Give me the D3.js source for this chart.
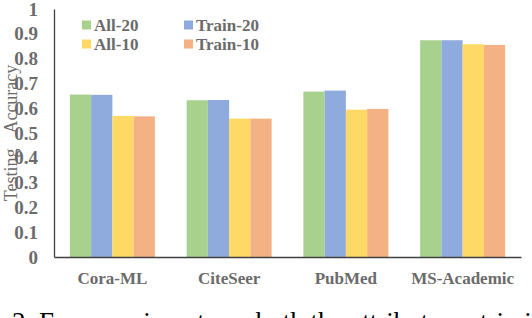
<!DOCTYPE html>
<html>
<head>
<meta charset="utf-8">
<script src="https://cdn.jsdelivr.net/npm/d3@7/dist/d3.min.js"></script>
<style>
  body { margin: 0; background: #fff; }
  svg { display: block; }
  text { font-family: "Liberation Serif", "Times New Roman", serif; }
</style>
</head>
<body>
<div id="chart"></div>
<script>
var datasets = ['Cora-ML', 'CiteSeer', 'PubMed', 'MS-Academic'];
var seriesNames = ['All-20', 'Train-20', 'All-10', 'Train-10'];
var all20 = [0.655, 0.632, 0.667, 0.874];
var train20 = [0.654, 0.633, 0.671, 0.874];
var all10 = [0.569, 0.558, 0.594, 0.858];
var train10 = [0.567, 0.558, 0.597, 0.855];
var yTicks = [0, 0.1, 0.2, 0.3, 0.4, 0.5, 0.6, 0.7, 0.8, 0.9, 1];
var colors = ['#a9d18e', '#8faadc', '#ffd966', '#f4b183'];

var series = [all20, train20, all10, train10];
var W = 532, H = 318;
var textColor = '#6b6b6b';

var svg = d3.select('#chart').append('svg')
	.attr('width', W).attr('height', H);

var x0 = d3.scaleBand().domain(datasets).range([54, 521])
	.paddingInner(0.272).paddingOuter(0.136);
var x1 = d3.scaleBand().domain(seriesNames).range([0, x0.bandwidth()]);
var y = d3.scaleLinear().domain([0, 1]).range([257, 9]);
var color = d3.scaleOrdinal().domain(seriesNames).range(colors);

// bars
var groups = svg.selectAll('g.grp').data(datasets).enter()
	.append('g')
	.attr('class', 'grp')
	.attr('transform', function (d) { return 'translate(' + x0(d) + ',0)'; });

groups.selectAll('rect')
	.data(function (d, i) {
		return seriesNames.map(function (s, j) { return { s: s, v: series[j][i] }; });
	})
	.enter().append('rect')
	.attr('x', function (d) { return x1(d.s); })
	.attr('y', function (d) { return y(d.v); })
	.attr('width', x1.bandwidth())
	.attr('height', function (d) { return y(0) - y(d.v); })
	.attr('fill', function (d) { return color(d.s); });

// y axis
var yAxis = svg.append('g')
	.attr('transform', 'translate(54,0)')
	.call(d3.axisLeft(y).tickValues(yTicks).tickFormat(d3.format('~g'))
		.tickSize(0).tickPadding(16));
yAxis.select('.domain').attr('stroke', '#404040').attr('stroke-width', 1.3);
yAxis.selectAll('text')
	.attr('fill', textColor)
	.style('font-family', '"Liberation Serif", serif')
	.style('font-weight', 'bold')
	.style('font-size', '19px');

// x axis
var xAxis = svg.append('g')
	.attr('transform', 'translate(0,257)')
	.call(d3.axisBottom(x0).tickSize(0).tickPadding(15).tickSizeOuter(0));
xAxis.select('.domain').attr('stroke', '#404040').attr('stroke-width', 1.3);
xAxis.selectAll('text')
	.attr('fill', textColor)
	.style('font-family', '"Liberation Serif", serif')
	.style('font-weight', 'bold')
	.style('font-size', '17px');

// axis title
var title = svg.append('text')
	.attr('transform', 'translate(11,133) rotate(-90)')
	.attr('text-anchor', 'middle')
	.attr('dy', '0.35em')
	.attr('fill', textColor)
	.style('font-size', '18px');
title.append('tspan').text('Testing');
title.append('tspan').attr('dx', 15).text('Accuracy');

// legend
var legendPos = [[82, 25], [184, 25], [82, 44], [184, 44]];
var legend = svg.selectAll('g.leg').data(seriesNames).enter()
	.append('g')
	.attr('class', 'leg')
	.attr('transform', function (d, i) {
		return 'translate(' + legendPos[i][0] + ',' + legendPos[i][1] + ')';
	});
legend.append('rect')
	.attr('x', 0).attr('y', -4.5)
	.attr('width', 9).attr('height', 9)
	.attr('fill', function (d) { return color(d); });
legend.append('text')
	.attr('x', 12).attr('dy', '0.35em')
	.attr('fill', textColor)
	.style('font-weight', 'bold')
	.style('font-size', '17px')
	.text(function (d) { return d; });

// caption, cut off by the bottom edge
svg.append('text')
	.attr('x', 12).attr('y', 331)
	.attr('fill', '#000')
	.style('font-size', '27px')
	.text('2. For experiments on both the attribute matrix in');
</script>
</body>
</html>
